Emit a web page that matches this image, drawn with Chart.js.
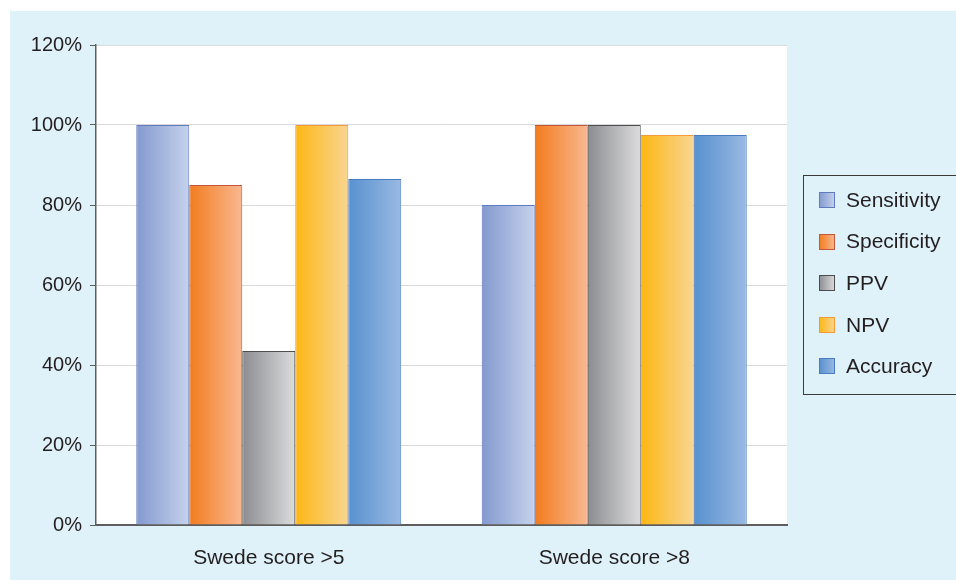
<!DOCTYPE html>
<html>
<head>
<meta charset="utf-8">
<script src="https://cdn.jsdelivr.net/npm/chart.js@4.4.0/dist/chart.umd.min.js"></script>
<style>
    html, body { margin: 0; padding: 0; background: #fff; }
    #wrap { position: relative; width: 956px; height: 580px; }
</style>
</head>
<body>
<div id="wrap"><canvas id="swedeChart" width="956" height="580"></canvas></div>
<script>
// Data (percent)
const categories = ['Swede score >5', 'Swede score >8'];
const seriesNames = ['Sensitivity', 'Specificity', 'PPV', 'NPV', 'Accuracy'];
const sensitivity = [100, 80];
const specificity = [85, 100];
const ppv = [43.5, 100];
const npv = [100, 97.5];
const accuracy = [86.5, 97.5];
const yTickValues = [0, 20, 40, 60, 80, 100, 120];

// Styling
const FONT = "'Liberation Sans', Arial, sans-serif";
const TEXT = '#231f20';
const palette = [
    { from: '#8399cf', to: '#c6d2ec', border: '#5f7cc0' },
    { from: '#f27c1e', to: '#f9b891', border: '#c4573a' },
    { from: '#8c8d91', to: '#dcdcde', border: '#4d4d4d' },
    { from: '#fdb713', to: '#f8d592', border: '#f29a38' },
    { from: '#5791cf', to: '#9ab9e2', border: '#4a7cc2' }
];

const seriesValues = [sensitivity, specificity, ppv, npv, accuracy];

function hGradient(ctx, x0, x1, c) {
    const g = ctx.createLinearGradient(x0, 0, x1, 0);
    g.addColorStop(0, c.from);
    g.addColorStop(1, c.to);
    return g;
}

// Page background + white plot area
const backgroundPlugin = {
    id: 'background',
    beforeDraw(chart) {
        const { ctx, chartArea: a } = chart;
        ctx.save();
        ctx.fillStyle = '#ffffff';
        ctx.fillRect(0, 0, chart.width, chart.height);
        ctx.fillStyle = '#dff1f9';
        ctx.fillRect(10, 11, chart.width - 10, chart.height - 11);
        ctx.fillStyle = '#ffffff';
        ctx.fillRect(a.left, a.top, a.right - a.left, a.bottom - a.top);
        ctx.restore();
    }
};

// Left-to-right gradient on each bar, using the bar's own position
const gradientPlugin = {
    id: 'barGradient',
    beforeDatasetsDraw(chart) {
        const ctx = chart.ctx;
        chart.data.datasets.forEach((ds, i) => {
            const meta = chart.getDatasetMeta(i);
            meta.data.forEach(el => {
                const g = hGradient(ctx, el.x - el.width / 2, el.x + el.width / 2, palette[i]);
                el.options = Object.assign({}, el.options, { backgroundColor: g });
            });
        });
    }
};

// Boxed legend on the right
const boxLegendPlugin = {
    id: 'boxLegend',
    afterDraw(chart) {
        const ctx = chart.ctx;
        ctx.save();
        ctx.strokeStyle = '#3a3a3a';
        ctx.lineWidth = 1;
        ctx.strokeRect(803.5, 175.5, 160, 219);
        ctx.font = '21px ' + FONT;
        ctx.textBaseline = 'middle';
        ctx.fillStyle = TEXT;
        chart.data.datasets.forEach((ds, i) => {
            const cy = 200 + i * 41.6;
            const bx = 819, by = Math.round(cy - 8);
            ctx.fillStyle = hGradient(ctx, bx, bx + 16, palette[i]);
            ctx.fillRect(bx, by, 16, 16);
            ctx.strokeStyle = palette[i].border;
            ctx.strokeRect(bx + 0.5, by + 0.5, 15, 15);
            ctx.fillStyle = TEXT;
            ctx.fillText(ds.label, 846, cy + 1);
        });
        ctx.restore();
    }
};

new Chart(document.getElementById('swedeChart'), {
    type: 'bar',
    data: {
        labels: categories,
        datasets: seriesNames.map((name, i) => ({
            label: name,
            data: seriesValues[i],
            backgroundColor: palette[i].from,
            borderColor: palette[i].border,
            borderWidth: 1,
            categoryPercentage: 0.767,
            barPercentage: 1.0
        }))
    },
    options: {
        responsive: false,
        animation: false,
        devicePixelRatio: 1,
        layout: { padding: { left: 10, top: 45, right: 169, bottom: 0 } },
        plugins: {
            legend: { display: false },
            tooltip: { enabled: false }
        },
        scales: {
            x: {
                grid: { display: false },
                border: { color: '#5e5e5e', width: 2 },
                ticks: { font: { family: FONT, size: 21 }, color: TEXT, padding: 13 },
                afterFit: s => { s.height = 55; }
            },
            y: {
                min: 0,
                max: 120,
                afterBuildTicks: s => { s.ticks = yTickValues.map(v => ({ value: v })); },
                ticks: {
                    font: { family: FONT, size: 20 },
                    color: TEXT,
                    padding: 8,
                    callback: v => v + '%'
                },
                grid: { color: '#d9d9d9', tickColor: '#5e5e5e', tickLength: 6, lineWidth: 1 },
                border: { color: '#5e5e5e', width: 1.5 },
                afterFit: s => { s.width = 86; }
            }
        }
    },
    plugins: [backgroundPlugin, gradientPlugin, boxLegendPlugin]
});
</script>
</body>
</html>
